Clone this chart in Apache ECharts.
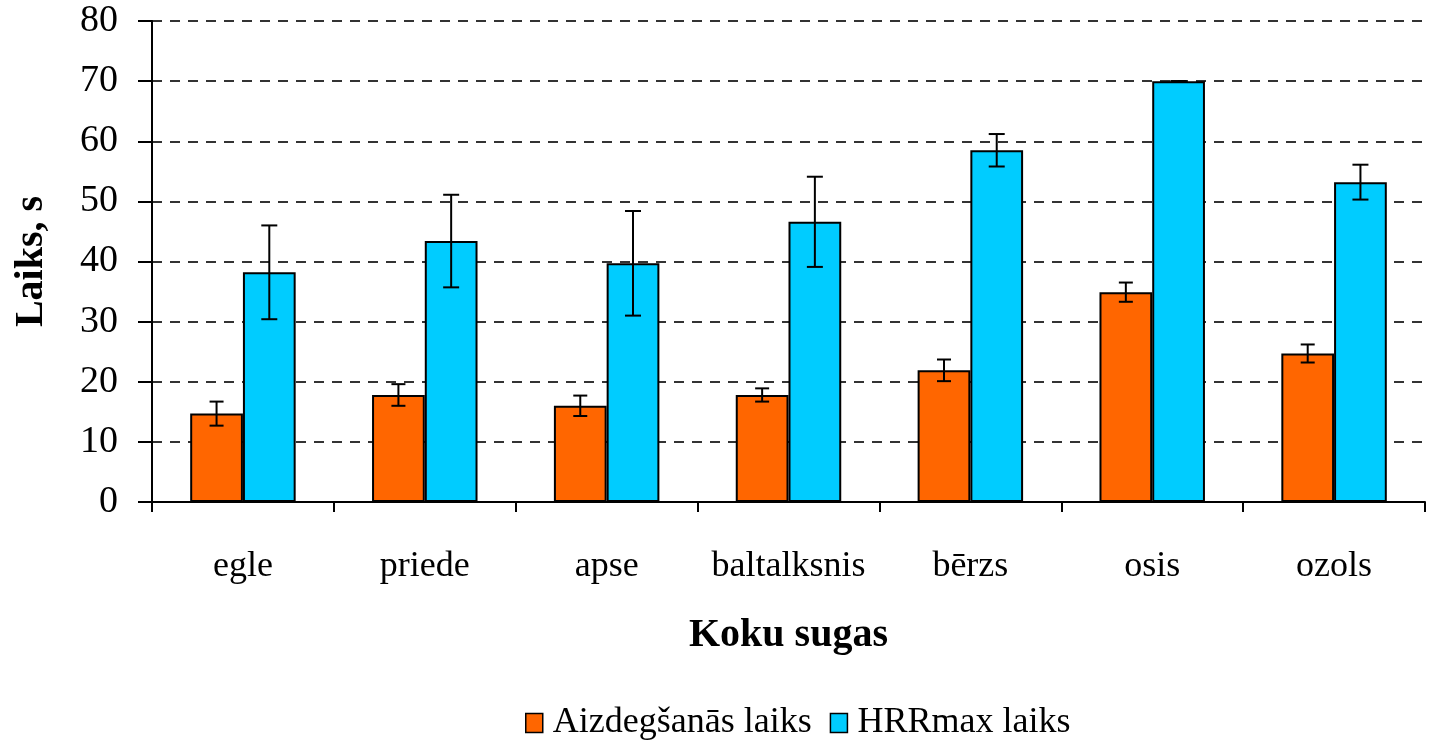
<!DOCTYPE html>
<html>
<head>
<meta charset="utf-8">
<script src="https://cdn.jsdelivr.net/npm/echarts@6/dist/echarts.min.js"></script>
<style>html,body{margin:0;padding:0;background:#fff;}#c{width:1437px;height:746px;}</style>
</head>
<body>
<div id="c"></div>
<script>
const categories = ['egle','priede','apse','baltalksnis','bērzs','osis','ozols'];
const ignition = [14.7, 17.8, 16.0, 17.8, 21.9, 34.9, 24.7];
const ignitionErr = [2.0, 1.8, 1.7, 1.1, 1.8, 1.6, 1.5];
const hrrmax = [38.2, 43.4, 39.7, 46.6, 58.5, 70.0, 53.2];
const hrrmaxErr = [7.8, 7.7, 8.7, 7.5, 2.7, 0.0, 2.9];
const yTicks = [0,10,20,30,40,50,60,70,80];
const seriesNames = ['Aizdegšanās laiks','HRRmax laiks'];

const FONT = '"Liberation Serif","DejaVu Serif",serif';
const CAT_GAP = 0.42;

function errData(vals, errs){
  return vals.map((v,i)=>[i, v-errs[i], v+errs[i]]);
}
function errRender(side, capW){
  return function(params, api){
    const idx = api.value(0);
    const lo = api.coord([idx, api.value(1)]);
    const hi = api.coord([idx, api.value(2)]);
    const band = api.size([1,0])[0];
    const bw = band*(1-CAT_GAP)/2;
    const x = lo[0] + side*bw/2;
    const st = {stroke:'#000', lineWidth:2};
    return {type:'group', children:[
      {type:'line', shape:{x1:x,y1:lo[1],x2:x,y2:hi[1]}, style:st},
      {type:'line', shape:{x1:x-capW/2,y1:lo[1],x2:x+capW/2,y2:lo[1]}, style:st},
      {type:'line', shape:{x1:x-capW/2,y1:hi[1],x2:x+capW/2,y2:hi[1]}, style:st}
    ]};
  };
}

const chart = echarts.init(document.getElementById('c'));
chart.setOption({
  animation:false,
  backgroundColor:'#fff',
  grid:{left:152, right:12, top:21, bottom:244, containLabel:false},
  legend:{
    data:seriesNames, bottom:0, left:520, icon:'rect',
    itemWidth:17, itemHeight:19, itemGap:18,
    itemStyle:{borderColor:'#000', borderWidth:1.5},
    textStyle:{fontFamily:FONT, fontSize:36, color:'#000', padding:[0,0,0,5]}
  },
  xAxis:{
    type:'category', data:categories,
    name:'Koku sugas', nameLocation:'middle', nameGap:114,
    nameTextStyle:{fontFamily:FONT, fontSize:40, fontWeight:'bold', color:'#000'},
    axisLine:{lineStyle:{color:'#000', width:2}},
    axisTick:{show:true, interval:0, length:10, lineStyle:{color:'#000', width:2}},
    axisLabel:{interval:0, fontFamily:FONT, fontSize:36, color:'#000', margin:47},
    splitLine:{show:false}
  },
  yAxis:{
    type:'value', min:0, max:80, interval:10,
    name:'Laiks, s', nameLocation:'middle', nameGap:100,
    nameTextStyle:{fontFamily:FONT, fontSize:40, fontWeight:'bold', color:'#000'},
    axisLine:{show:true, lineStyle:{color:'#000', width:2}},
    axisTick:{show:true, length:14, lineStyle:{color:'#000', width:2}},
    axisLabel:{fontFamily:FONT, fontSize:38, color:'#000', margin:34,
      formatter:v=> yTicks.includes(v) ? String(v) : ''},
    splitLine:{show:true, lineStyle:{color:'#333', width:2, type:[10,8]}}
  },
  series:[
    {name:seriesNames[0], type:'bar', data:ignition, barGap:'0%', barCategoryGap:(CAT_GAP*100)+'%',
      itemStyle:{color:'#FF6600', borderColor:'#000', borderWidth:2}},
    {name:seriesNames[1], type:'bar', data:hrrmax, barGap:'0%', barCategoryGap:(CAT_GAP*100)+'%',
      itemStyle:{color:'#00CCFF', borderColor:'#000', borderWidth:2}},
    {type:'custom', renderItem:errRender(-1, 14), data:errData(ignition, ignitionErr),
      encode:{x:0, y:[1,2]}, z:10, silent:true},
    {type:'custom', renderItem:errRender(1, 16), data:errData(hrrmax, hrrmaxErr),
      encode:{x:0, y:[1,2]}, z:10, silent:true}
  ]
});
</script>
</body>
</html>
